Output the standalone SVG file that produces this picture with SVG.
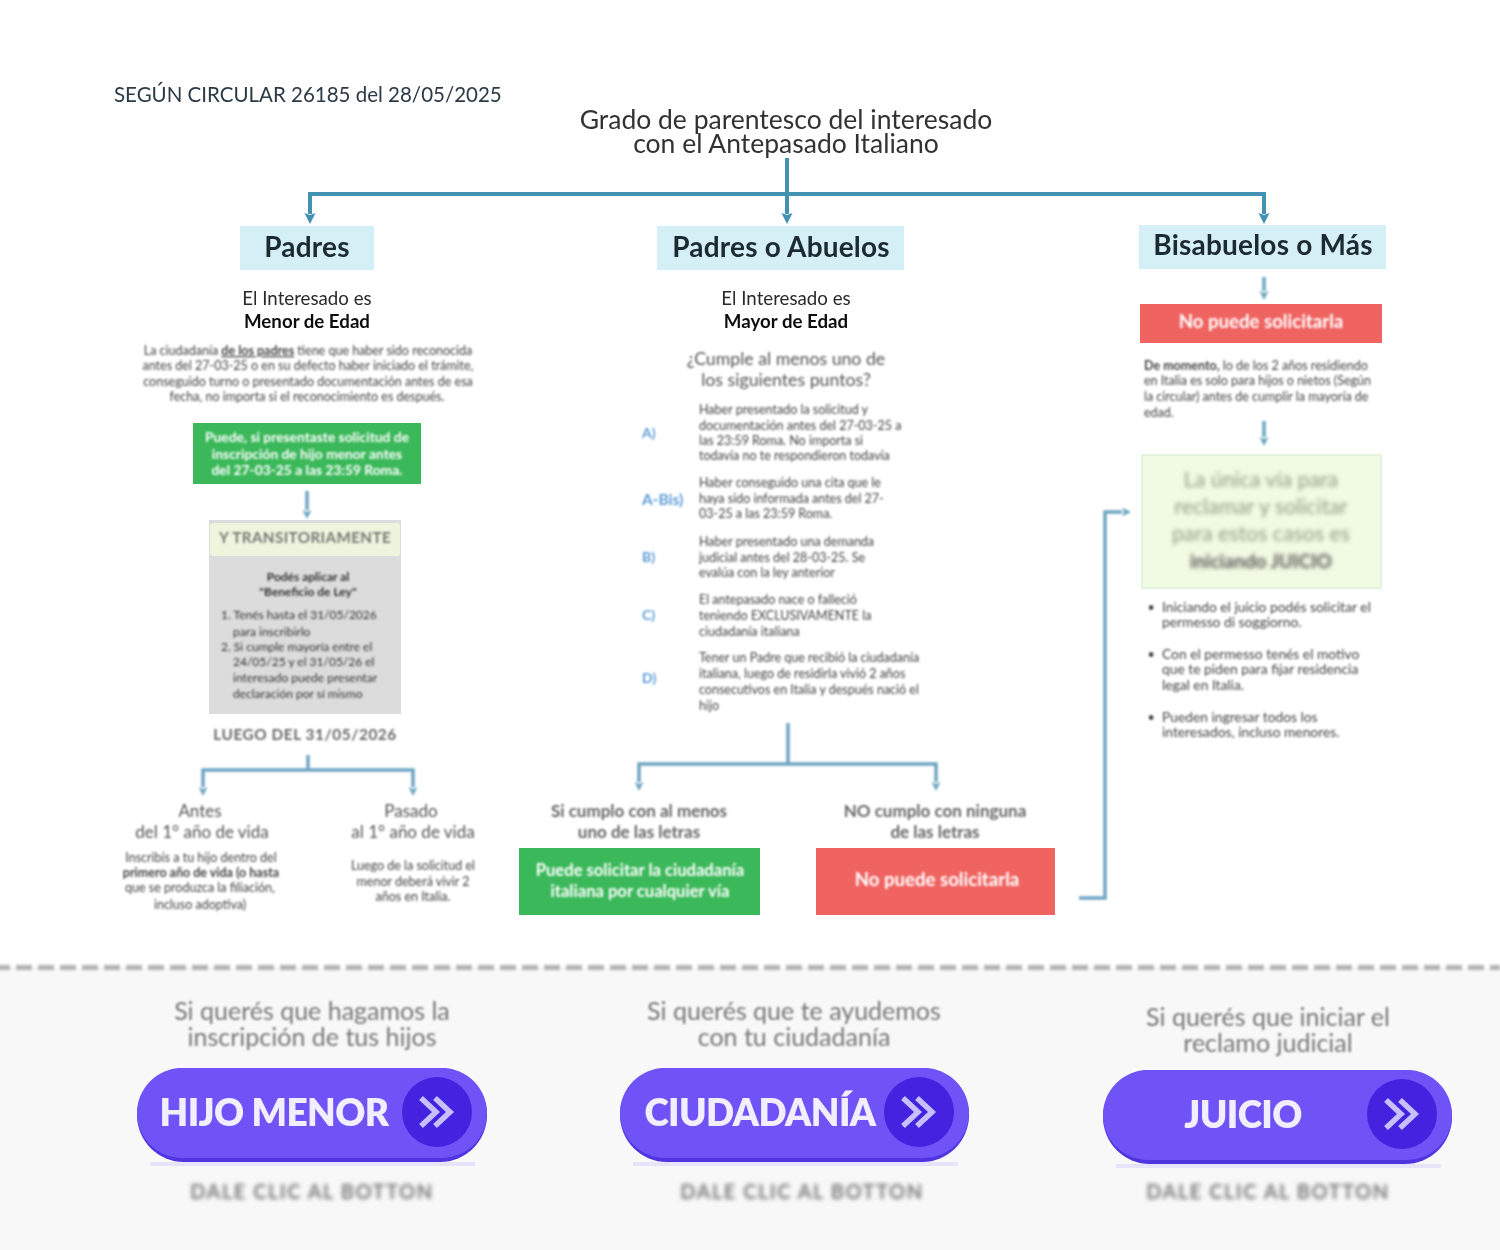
<svg xmlns="http://www.w3.org/2000/svg" width="1500" height="1250" viewBox="0 0 1500 1250">
<style>
text{font-family:"Lato","Open Sans","Liberation Sans",sans-serif;fill:#333;text-anchor:middle}
.l{text-anchor:start}
.s{font-size:12.5px;fill:#444}
.s2{font-size:13.8px}
.h{font-size:28px;font-weight:700;fill:#1f2a30;letter-spacing:.2px}
.m{font-size:18.7px;fill:#2a2a2a}
.b{font-size:18.7px;font-weight:700;fill:#111}
.w{fill:#fff;font-weight:700}
.g{font-size:17px;fill:#555}
.bl{filter:url(#b1)}
.bm{filter:url(#b2)}
.sf{filter:url(#b0)}
.c{fill:none;stroke:#4391b3;stroke-width:4}
.c2{fill:none;stroke:#6ea6c2;stroke-width:3.5}
.lt{font-size:14px;font-weight:700;fill:#5b9bd5;text-anchor:start}
.pr{font-size:25px;fill:#777}
.cap{font-size:20px;font-weight:700;fill:#777;letter-spacing:1.5px}
.bt{font-size:37px;font-weight:800;fill:#f0eeff;letter-spacing:-.6px}
.chev{fill:none;stroke:#c7c0ff;stroke-width:5.5}
.q{font-size:17px;font-weight:700;fill:#666}
.no{font-size:18.6px}
.sh{fill:#e6e3fb}
</style>
<defs>
<filter id="b0" x="-10%" y="-10%" width="120%" height="120%"><feGaussianBlur stdDeviation="0.7"/></filter>
<filter id="b1" x="-5%" y="-20%" width="110%" height="140%"><feGaussianBlur stdDeviation="1.3"/></filter>
<filter id="b2" x="-5%" y="-20%" width="110%" height="140%"><feGaussianBlur stdDeviation="1.9"/></filter>
<filter id="bu" filterUnits="userSpaceOnUse" x="0" y="0" width="1500" height="1250"><feGaussianBlur stdDeviation="0.8"/></filter>
<filter id="bd" filterUnits="userSpaceOnUse" x="0" y="950" width="1500" height="40"><feGaussianBlur stdDeviation="1.4"/></filter>
<marker id="a" markerUnits="userSpaceOnUse" markerWidth="13" markerHeight="13" refX="1" refY="6.500" orient="auto"><path d="M0 1L11 6.500L0 12L2 6.500Z" fill="#4391b3"/></marker>
<marker id="a2" markerUnits="userSpaceOnUse" markerWidth="13" markerHeight="13" refX="1" refY="6.500" orient="auto"><path d="M1 2L10 6.500L1 11L3 6.500Z" fill="#6ea6c2"/></marker>
</defs>
<rect width="1500" height="1250" fill="#fff"/>
<rect id="footer-band" y="968" width="1500" height="282" fill="#f8f8f8"/>
<line id="divider" x1="-6" y1="967.500" x2="1500" y2="967.500" stroke="#b0b0b0" stroke-width="5" stroke-dasharray="16 6" filter="url(#bd)"/>

<g id="connectors">
<path class="c" d="M787 158V214" marker-end="url(#a)"/>
<path class="c" d="M787 194H310V214" marker-end="url(#a)"/>
<path class="c" d="M787 194H1264V214" marker-end="url(#a)"/>
<g filter="url(#bu)">
<path class="c2" d="M1264 277V291" marker-end="url(#a2)"/>
<path class="c2" d="M1264 421V437" marker-end="url(#a2)"/>
<path class="c2" d="M307 491V510" marker-end="url(#a2)"/>
<path class="c2" d="M308 755V770"/>
<path class="c2" d="M308 770H203V787" marker-end="url(#a2)"/>
<path class="c2" d="M308 770H413V787" marker-end="url(#a2)"/>
<path class="c2" d="M788 723V764"/>
<path class="c2" d="M788 764H639V782" marker-end="url(#a2)"/>
<path class="c2" d="M788 764H936V782" marker-end="url(#a2)"/>
<path class="c2" d="M1079 898H1105V512H1122" marker-end="url(#a2)"/>
</g>
</g>

<g id="note"><text class="l sf" x="114" y="102" style="font-size:20.5px;fill:#2b3a46">SEGÚN CIRCULAR 26185 del 28/05/2025</text></g>
<g id="title" class="sf">
<text x="786" y="129" style="font-size:26.5px;fill:#333">Grado de parentesco del interesado<tspan x="786" dy="24">con el Antepasado Italiano</tspan></text>
</g>

<g id="padres">
<rect x="240" y="226" width="134" height="44" fill="#d4eff6"/>
<text class="h sf" x="307" y="257">Padres</text>
<g class="sf"><text class="m" x="307" y="305">El Interesado es</text><text class="b" x="307" y="328">Menor de Edad</text></g>
<g class="bl">
<text class="s" x="308" y="355">La ciudadanía <tspan text-decoration="underline" font-weight="700">de los padres</tspan> tiene que haber sido reconocida</text>
<text class="s" x="308" y="370">antes del 27-03-25 o en su defecto haber iniciado el trámite,</text>
<text class="s" x="308" y="386">conseguido turno o presentado documentación antes de esa</text>
<text class="s" x="307" y="401">fecha, no importa si el reconocimiento es después.</text>
</g>
</g>
<g id="padres-ok">
<rect x="193" y="423" width="228" height="61" fill="#3bb85a" class="sf"/>
<g class="bl" style="font-size:13.8px"><text class="w" x="307" y="442">Puede, si presentaste solicitud de</text><text class="w" x="307" y="459">inscripción de hijo menor antes</text><text class="w" x="307" y="475">del 27-03-25 a las 23:59 Roma.</text></g>
</g>
<g id="transitorio">
<rect x="209" y="520" width="192" height="194" fill="#dcdcdc" class="sf"/>
<rect x="210" y="523" width="190" height="33" rx="3" fill="#eef5dd" class="sf"/>
<text class="bl" x="305" y="543" style="font-size:15.2px;font-weight:700;fill:#777;letter-spacing:.4px">Y TRANSITORIAMENTE</text>
<g class="bl" style="font-size:12px">
<text x="308" y="581" style="font-weight:700">Podés aplicar al</text>
<text x="308" y="596" style="font-weight:700">"Beneficio de Ley"</text>
<text class="l" x="221" y="619">1. Tenés hasta el 31/05/2026</text>
<text class="l" x="233" y="636">para inscribirlo</text>
<text class="l" x="221" y="651">2. Si cumple mayoría entre el</text>
<text class="l" x="233" y="666">24/05/25 y el 31/05/26 el</text>
<text class="l" x="233" y="682">interesado puede presentar</text>
<text class="l" x="233" y="698">declaración por sí mismo</text>
</g>
</g>
<g id="luego"><text class="bl" x="305" y="740" style="font-size:15.3px;font-weight:700;fill:#666;letter-spacing:.6px">LUEGO DEL 31/05/2026</text></g>
<g id="antes" class="bl">
<text class="g" x="200" y="817">Antes</text><text class="g" x="202" y="838">del 1° año de vida</text>
<text class="s" x="201" y="862">Inscribís a tu hijo dentro del</text><text class="s" x="201" y="877" style="font-weight:700">primero año de vida (o hasta</text><text class="s" x="200" y="892">que se produzca la filiación,</text><text class="s" x="200" y="909">incluso adoptiva)</text>
</g>
<g id="pasado" class="bl">
<text class="g" x="411" y="817">Pasado</text><text class="g" x="413" y="838">al 1° año de vida</text>
<text class="s" x="413" y="870">Luego de la solicitud el</text><text class="s" x="413" y="886">menor deberá vivir 2</text><text class="s" x="413" y="901">años en Italia.</text>
</g>

<g id="padres-o-abuelos">
<rect x="657" y="226" width="247" height="44" fill="#d4eff6"/>
<text class="h sf" x="781" y="257">Padres o Abuelos</text>
<g class="sf"><text class="m" x="786" y="305">El Interesado es</text><text class="b" x="786" y="328">Mayor de Edad</text></g>
<g class="bl"><text x="786" y="365" style="font-size:17.7px;fill:#555">¿Cumple al menos uno de</text><text x="786" y="386" style="font-size:17.7px;fill:#555">los siguientes puntos?</text></g>
</g>
<g id="puntos" class="bl">
<text class="lt" x="642" y="438">A)</text>
<text class="s l" x="699" y="414">Haber presentado la solicitud y</text><text class="s l" x="699" y="430">documentación antes del 27-03-25 a</text><text class="s l" x="699" y="445">las 23:59 Roma. No importa si</text><text class="s l" x="699" y="460">todavía no te respondieron todavía</text>
<text class="lt" x="642" y="505" style="font-size:15.5px">A-Bis)</text>
<text class="s l" x="699" y="487">Haber conseguido una cita que le</text><text class="s l" x="699" y="503">haya sido informada antes del 27-</text><text class="s l" x="699" y="518">03-25 a las 23:59 Roma.</text>
<text class="lt" x="642" y="562">B)</text>
<text class="s l" x="699" y="546">Haber presentado una demanda</text><text class="s l" x="699" y="562">judicial antes del 28-03-25. Se</text><text class="s l" x="699" y="577">evalúa con la ley anterior</text>
<text class="lt" x="642" y="620">C)</text>
<text class="s l" x="699" y="604">El antepasado nace o falleció</text><text class="s l" x="699" y="620">teniendo EXCLUSIVAMENTE la</text><text class="s l" x="699" y="636">ciudadanía italiana</text>
<text class="lt" x="642" y="683">D)</text>
<text class="s l" x="699" y="662">Tener un Padre que recibió la ciudadanía</text><text class="s l" x="699" y="678">italiana, luego de residirla vivió 2 años</text><text class="s l" x="699" y="694">consecutivos en Italia y después nació el</text><text class="s l" x="699" y="710">hijo</text>
</g>
<g id="si-cumplo">
<g class="bl"><text class="q" x="639" y="817">Si cumplo con al menos</text><text class="q" x="639" y="838">uno de las letras</text></g>
<rect x="519" y="848" width="241" height="67" fill="#3bb85a" class="sf"/>
<g class="bl" style="font-size:16.6px"><text class="w" x="640" y="876">Puede solicitar la ciudadanía</text><text class="w" x="640" y="897">italiana por cualquier vía</text></g>
</g>
<g id="no-cumplo">
<g class="bl"><text class="q" x="935" y="817">NO cumplo con ninguna</text><text class="q" x="935" y="838">de las letras</text></g>
<rect x="816" y="848" width="239" height="67" fill="#ef6361" class="sf"/>
<text class="w bl no" x="937" y="886">No puede solicitarla</text>
</g>

<g id="bisabuelos">
<rect x="1139" y="225" width="247" height="44" fill="#d4eff6"/>
<text class="h sf" x="1263" y="255">Bisabuelos o Más</text>
</g>
<g id="bis-no">
<rect x="1140" y="304" width="242" height="39" fill="#ef6361" class="sf"/>
<text class="w bl no" x="1261" y="328">No puede solicitarla</text>
<g class="bl"><text class="s l" x="1144" y="370"><tspan font-weight="700">De momento,</tspan> lo de los 2 años residiendo</text><text class="s l" x="1144" y="385">en Italia es solo para hijos o nietos (Según</text><text class="s l" x="1144" y="401">la circular) antes de cumplir la mayoría de</text><text class="s l" x="1144" y="417">edad.</text></g>
</g>
<g id="juicio">
<rect x="1142" y="455" width="239" height="133" fill="#f1fae3" stroke="#e4f3de" stroke-width="2" class="sf"/>
<g class="bm" style="font-size:21.3px"><text x="1261" y="487" style="fill:#8e9a82">La única vía para</text><text x="1261" y="514" style="fill:#8e9a82">reclamar y solicitar</text><text x="1261" y="541" style="fill:#8e9a82">para estos casos es</text><text x="1261" y="568" style="fill:#555;font-weight:700;font-size:19px">iniciando JUICIO</text></g>
</g>
<g id="beneficios" class="bl">
<text class="s" x="1151" y="612">•</text><text class="s s2 l" x="1162" y="612">Iniciando el juicio podés solicitar el</text><text class="s s2 l" x="1162" y="627">permesso di soggiorno.</text>
<text class="s" x="1151" y="659">•</text><text class="s s2 l" x="1162" y="659">Con el permesso tenés el motivo</text><text class="s s2 l" x="1162" y="674">que te piden para fijar residencia</text><text class="s s2 l" x="1162" y="690">legal en Italia.</text>
<text class="s" x="1151" y="722">•</text><text class="s s2 l" x="1162" y="722">Pueden ingresar todos los</text><text class="s s2 l" x="1162" y="737">interesados, incluso menores.</text>
</g>

<g id="cta-hijo">
<g class="bl"><text class="pr" x="312" y="1020">Si querés que hagamos la<tspan x="312" dy="26">inscripción de tus hijos</tspan></text></g>
<g class="sf">
<rect class="sh" x="150" y="1162" width="325" height="4"/>
<rect x="137" y="1068" width="350" height="94" rx="47" fill="#4f35e0"/>
<rect x="137" y="1068" width="350" height="90" rx="45" fill="#6f52f6"/>
<circle cx="437" cy="1112" r="35" fill="#4423e0"/>
<path class="chev" d="M421 1098L436 1112L421 1126M435 1098L450 1112L435 1126"/>
<text class="bt" x="274" y="1126">HIJO MENOR</text>
</g>
<text class="cap bm" x="312" y="1199">DALE CLIC AL BOTTON</text>
</g>
<g id="cta-ciudadania">
<g class="bl"><text class="pr" x="794" y="1020">Si querés que te ayudemos<tspan x="794" dy="26">con tu ciudadanía</tspan></text></g>
<g class="sf">
<rect class="sh" x="633" y="1162" width="325" height="4"/>
<rect x="620" y="1068" width="349" height="94" rx="47" fill="#4f35e0"/>
<rect x="620" y="1068" width="349" height="90" rx="45" fill="#6f52f6"/>
<circle cx="919" cy="1112" r="35" fill="#4423e0"/>
<path class="chev" d="M903 1098L918 1112L903 1126M917 1098L932 1112L917 1126"/>
<text class="bt" x="760" y="1126">CIUDADANÍA</text>
</g>
<text class="cap bm" x="802" y="1199">DALE CLIC AL BOTTON</text>
</g>
<g id="cta-juicio">
<g class="bl"><text class="pr" x="1268" y="1026">Si querés que iniciar el<tspan x="1268" dy="26">reclamo judicial</tspan></text></g>
<g class="sf">
<rect class="sh" x="1116" y="1164" width="325" height="4"/>
<rect x="1103" y="1070" width="349" height="94" rx="47" fill="#4f35e0"/>
<rect x="1103" y="1070" width="349" height="90" rx="45" fill="#6f52f6"/>
<circle cx="1402" cy="1114" r="35" fill="#4423e0"/>
<path class="chev" d="M1386 1100L1401 1114L1386 1128M1400 1100L1415 1114L1400 1128"/>
<text class="bt" x="1243" y="1128">JUICIO</text>
</g>
<text class="cap bm" x="1268" y="1199">DALE CLIC AL BOTTON</text>
</g>
</svg>
